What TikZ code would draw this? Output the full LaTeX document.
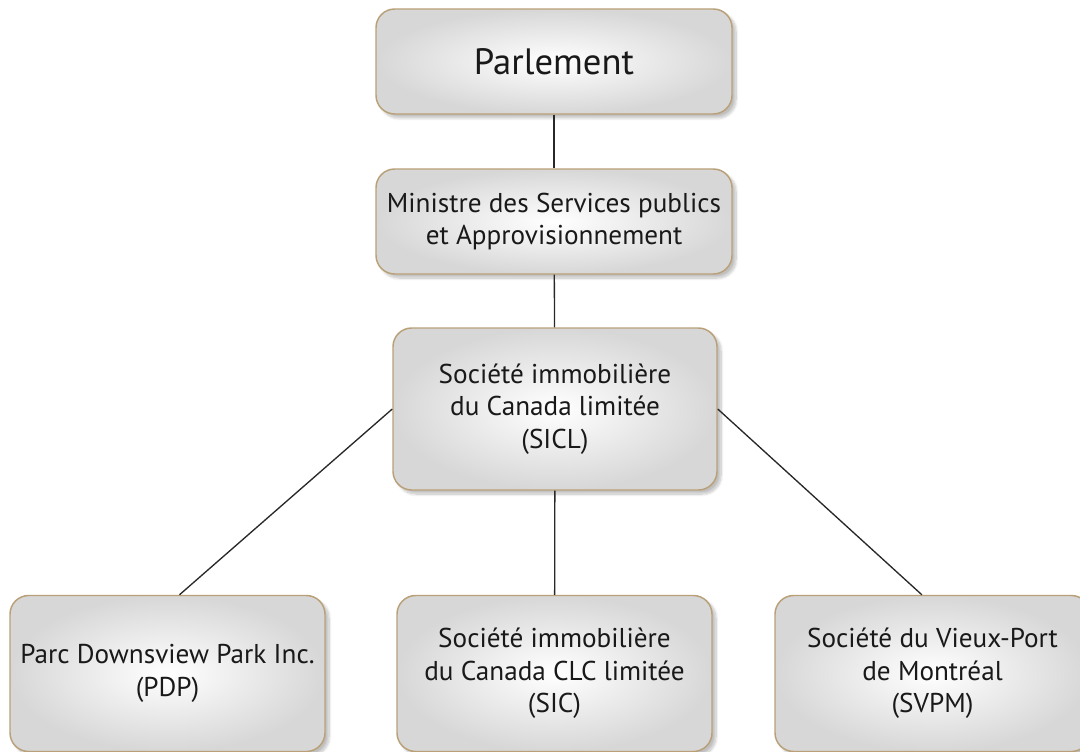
\documentclass[tikz,border=0pt]{standalone}
\usepackage{fontspec}
\setmainfont{PT Sans}
\usepackage{tikz}
\usetikzlibrary{shadows.blur}
\definecolor{tanline}{RGB}{185,160,120}
\definecolor{boxgray}{RGB}{215,215,215}
\definecolor{inkline}{RGB}{40,40,40}
\tikzset{%
    orgbox/.style={%
        draw=tanline, line width=1.1pt, rounded corners=14pt,
        shade, inner color=white, outer color=boxgray,
        blur shadow={shadow xshift=3pt, shadow yshift=-3pt, shadow blur steps=10, shadow opacity=25},
        align=center, inner sep=0pt, text=black!90,
        font=\fontsize{20.4}{24.5}\selectfont
    },
    link/.style={draw=inkline, line width=1pt}
}

\begin{document}
\begin{tikzpicture}[x=0.75pt,y=-0.75pt]
    \useasboundingbox (0,0) rectangle (1080,752);
    \clip (0,0) rectangle (1080,752);
    \node[orgbox, minimum width=267pt, minimum height=78.75pt, font=\fontsize{27.5}{32}\selectfont] (parl) at (554,61.5) {Parlement};
    \node[orgbox, minimum width=267pt, minimum height=78.75pt] (mini) at (554,221.5) {Ministre des Services publics\\et Approvisionnement};
    \node[orgbox, minimum width=243pt, minimum height=121.5pt] (sicl) at (555,409) {Société immobilière\\du Canada limitée\\(SICL)};
    \node[orgbox, minimum width=236.25pt, minimum height=117pt] (pdp) at (167.5,673.5) {Parc Downsview Park Inc.\\(PDP)};
    \node[orgbox, minimum width=236.25pt, minimum height=117pt] (sic) at (554.5,673.5) {Société immobilière\\du Canada CLC limitée\\(SIC)};
    \node[orgbox, minimum width=236.25pt, minimum height=117pt] (svpm) at (932.5,673.5) {Société du Vieux-Port\\de Montréal\\(SVPM)};
    \draw[link] (parl) -- (mini);
    \draw[link] (mini) -- (sicl);
    \draw[link] (sicl) -- (sic);
    \draw[link] (sicl.west) -- ([xshift=9pt]pdp.north);
    \draw[link] (sicl.east) -- ([xshift=-8pt]svpm.north);
\end{tikzpicture}
\end{document}
